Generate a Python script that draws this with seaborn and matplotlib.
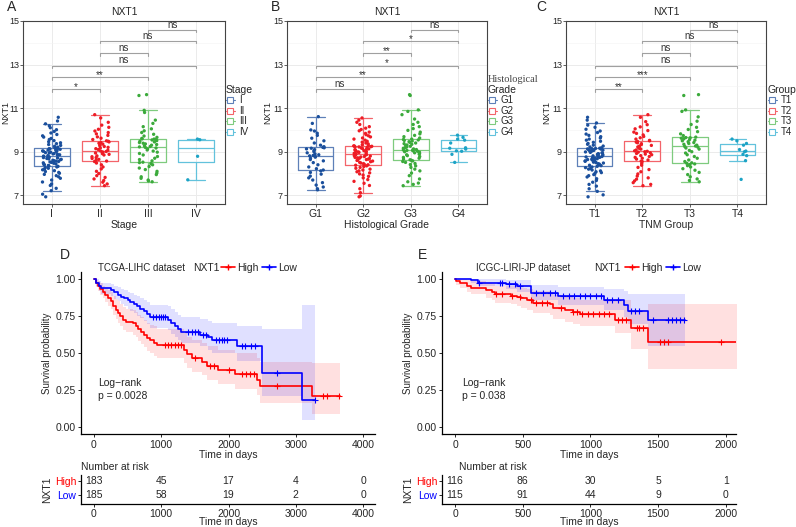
import numpy as np
import pandas as pd
import matplotlib
matplotlib.use('Agg')
import matplotlib.pyplot as plt
from matplotlib.lines import Line2D
import seaborn as sns

sns.set_style('white')
plt.rcParams['font.family'] = ['Liberation Sans', 'DejaVu Sans']
np.random.seed(11)

# ---------------------------------------------------------
# Expression data (NXT1)
# ---------------------------------------------------------
stage_groups = ['I', 'II', 'III', 'IV']
stage_I = [6.93, 7.05, 7.21, 7.32, 7.45, 7.52, 7.61, 7.70, 7.78, 7.85, 7.90, 7.96, 8.01, 8.05, 8.09, 8.13,
           8.17, 8.20, 8.24, 8.27, 8.30, 8.33,
           8.35, 8.37, 8.40, 8.42, 8.44, 8.47, 8.49, 8.51, 8.53, 8.55, 8.57, 8.59, 8.61, 8.63, 8.65, 8.67,
           8.69, 8.71, 8.73, 8.75, 8.77, 8.78,
           8.80, 8.82, 8.84, 8.86, 8.88, 8.90, 8.92, 8.94, 8.96, 8.98, 9.00, 9.02, 9.04, 9.05, 9.07, 9.08,
           9.10, 9.11, 9.13, 9.14, 9.15, 9.16,
           9.18, 9.21, 9.25, 9.29, 9.33, 9.37, 9.41, 9.46, 9.51, 9.56, 9.61, 9.67, 9.73, 9.79, 9.86, 9.93,
           10.01, 10.10, 10.19, 10.28, 10.41, 10.58]
stage_II = [7.44, 7.52, 7.60, 7.68, 7.75, 7.82, 7.90, 8.00, 8.10, 8.21, 8.30, 8.40, 8.48, 8.55,
            8.57, 8.61, 8.65, 8.69, 8.73, 8.77, 8.81, 8.85, 8.88, 8.91, 8.94, 8.97, 8.99, 9.01,
            9.03, 9.07, 9.10, 9.14, 9.17, 9.20, 9.24, 9.27, 9.31, 9.35, 9.39, 9.42, 9.45, 9.48,
            9.50, 9.56, 9.62, 9.68, 9.75, 9.82, 9.88, 9.95, 10.03, 10.12, 10.22, 10.35, 10.55, 10.70]
stage_III = [7.62, 7.66, 7.70, 7.78, 7.85, 7.95, 8.02, 8.10, 8.18, 8.25, 8.32, 8.40, 8.45, 8.50,
             8.52, 8.58, 8.64, 8.70, 8.78, 8.85, 8.92, 8.98, 9.03, 9.08, 9.13, 9.17, 9.20, 9.22,
             9.24, 9.27, 9.30, 9.33, 9.36, 9.39, 9.42, 9.45, 9.48, 9.51, 9.54, 9.56, 9.58, 9.59,
             9.61, 9.66, 9.72, 9.80, 9.88, 9.96, 10.05, 10.15, 10.30, 10.45, 10.80, 10.90, 11.58, 11.62]
stage_IV = [7.71, 8.79, 9.55, 9.58]

grade_groups = ['G1', 'G2', 'G3', 'G4']
grade_G1 = [7.25, 7.30, 7.38, 7.47, 7.58, 7.70, 7.80, 7.88, 7.97, 8.05, 8.12,
            8.16, 8.22, 8.30, 8.40, 8.50, 8.58, 8.64, 8.70, 8.75, 8.78, 8.81,
            8.83, 8.86, 8.90, 8.95, 9.00, 9.05, 9.10, 9.13, 9.16, 9.18, 9.20,
            9.23, 9.30, 9.40, 9.50, 9.62, 9.75, 9.85, 9.95, 10.00, 10.30, 10.61]
grade_G2 = [6.93, 6.97, 7.12, 7.30, 7.45, 7.55, 7.64, 7.72, 7.80, 7.87, 7.93, 7.98, 8.03, 8.08, 8.12, 8.16,
            8.20, 8.24, 8.28, 8.32, 8.35, 8.38,
            8.40, 8.42, 8.45, 8.48, 8.51, 8.54, 8.57, 8.60, 8.62, 8.64, 8.66, 8.68, 8.70, 8.72, 8.74, 8.76,
            8.78, 8.80, 8.82, 8.84, 8.86, 8.87,
            8.89, 8.91, 8.93, 8.95, 8.97, 8.99, 9.01, 9.03, 9.05, 9.07, 9.09, 9.11, 9.13, 9.15, 9.17, 9.19,
            9.21, 9.22, 9.23, 9.25, 9.26, 9.27,
            9.29, 9.32, 9.36, 9.40, 9.44, 9.48, 9.53, 9.58, 9.63, 9.68, 9.73, 9.78, 9.84, 9.90, 9.96, 10.02,
            10.08, 10.15, 10.25, 10.35, 10.45, 10.55]
grade_G3 = [7.44, 7.50, 7.56, 7.62, 7.75, 7.90, 8.02, 8.12, 8.20, 8.28, 8.35, 8.41, 8.46, 8.51, 8.55, 8.58, 8.61,
            8.63, 8.66, 8.70, 8.74, 8.78, 8.82, 8.86, 8.89, 8.92, 8.95, 8.98, 9.00, 9.02, 9.04, 9.06, 9.07, 9.08,
            9.10, 9.13, 9.16, 9.19, 9.22, 9.25, 9.28, 9.31, 9.34, 9.37, 9.40, 9.43, 9.46, 9.49, 9.52, 9.54, 9.56,
            9.58, 9.63, 9.69, 9.75, 9.82, 9.90, 9.98, 10.06, 10.15, 10.25, 10.35, 10.50, 10.70, 10.85, 10.92,
            11.58, 11.62]
grade_G4 = [8.51, 8.88, 9.02, 9.04, 9.12, 9.16, 9.18, 9.40, 9.53, 9.58, 9.66, 9.76]

tnm_groups = ['T1', 'T2', 'T3', 'T4']
tnm_T1 = [6.93, 7.02, 7.18, 7.30, 7.42, 7.50, 7.60, 7.68, 7.76, 7.84, 7.90, 7.95, 8.00, 8.04, 8.08, 8.12,
          8.16, 8.20, 8.23, 8.27, 8.30, 8.33,
          8.36, 8.38, 8.41, 8.43, 8.45, 8.48, 8.50, 8.52, 8.54, 8.56, 8.58, 8.60, 8.62, 8.64, 8.66, 8.68,
          8.70, 8.72, 8.74, 8.76, 8.78, 8.79,
          8.81, 8.83, 8.85, 8.87, 8.89, 8.91, 8.93, 8.95, 8.97, 8.99, 9.01, 9.03, 9.04, 9.06, 9.07, 9.09,
          9.10, 9.12, 9.13, 9.14, 9.15, 9.16,
          9.18, 9.22, 9.26, 9.30, 9.34, 9.38, 9.43, 9.48, 9.53, 9.58, 9.63, 9.69, 9.75, 9.81, 9.88, 9.95,
          10.03, 10.12, 10.22, 10.32, 10.45, 10.58]
tnm_T2 = [7.44, 7.50, 7.58, 7.66, 7.74, 7.80, 7.88, 7.98, 8.08, 8.18, 8.28, 8.38, 8.46, 8.55,
          8.57, 8.62, 8.66, 8.70, 8.74, 8.78, 8.82, 8.86, 8.89, 8.92, 8.95, 8.98, 9.00, 9.02,
          9.04, 9.08, 9.12, 9.15, 9.19, 9.22, 9.26, 9.29, 9.33, 9.37, 9.41, 9.44, 9.47, 9.50,
          9.52, 9.58, 9.64, 9.70, 9.77, 9.84, 9.90, 9.97, 10.05, 10.14, 10.24, 10.38, 10.58, 10.70]
tnm_T3 = [7.62, 7.68, 7.75, 7.85, 7.95, 8.05, 8.15, 8.22, 8.30, 8.36, 8.41, 8.44, 8.47,
          8.49, 8.55, 8.62, 8.70, 8.78, 8.86, 8.94, 9.00, 9.06, 9.12, 9.17, 9.21, 9.24,
          9.26, 9.30, 9.34, 9.38, 9.42, 9.46, 9.50, 9.53, 9.56, 9.59, 9.62, 9.64, 9.65,
          9.67, 9.74, 9.82, 9.92, 10.02, 10.12, 10.25, 10.40, 10.60, 10.85, 10.92, 11.58, 11.62]
tnm_T4 = [7.73, 8.59, 8.82, 8.88, 9.00, 9.03, 9.10, 9.30, 9.38, 9.50, 9.58]

# significance brackets (pairs of group index, label, height)
bracket_pairs = [(0, 1), (0, 2), (0, 3), (1, 2), (1, 3), (2, 3)]
bracket_y = [11.86, 12.41, 12.95, 13.51, 14.07, 14.59]
stage_sig = ['*', '**', 'ns', 'ns', 'ns', 'ns']
grade_sig = ['ns', '**', '*', '**', '*', 'ns']
tnm_sig = ['**', '***', 'ns', 'ns', 'ns', 'ns']

point_colors = ['#1A4F9C', '#EE1C25', '#3BAA3B', '#1CA3C5']
box_colors = ['#5E80B8', '#F3646A', '#7ECB7E', '#62C2DC']

# ---------------------------------------------------------
# Survival data (step times, survival, 95% CI), read off D and E
# ---------------------------------------------------------
tcga_high_t = [0, 30, 60, 90, 130, 170, 210, 250, 290, 320, 350, 390, 430, 480, 580, 620, 660, 700, 740,
               790, 840, 890, 930, 1340, 1380, 1450, 1600, 1680, 1840, 2100, 2430, 2470, 3236, 3657]
tcga_high_s = [1.0, 0.97, 0.95, 0.93, 0.91, 0.89, 0.87, 0.85, 0.82, 0.79, 0.77, 0.75, 0.725, 0.712, 0.70,
               0.68, 0.66, 0.64, 0.62, 0.60, 0.585, 0.57, 0.553, 0.52, 0.49, 0.467, 0.44, 0.41, 0.383,
               0.358, 0.32, 0.275, 0.207, 0.207]
tcga_high_lo = [1.0, 0.945, 0.92, 0.895, 0.87, 0.845, 0.82, 0.795, 0.76, 0.73, 0.705, 0.685, 0.655, 0.64,
                0.625, 0.605, 0.58, 0.56, 0.54, 0.515, 0.50, 0.48, 0.465, 0.43, 0.40, 0.375, 0.35, 0.315,
                0.29, 0.26, 0.215, 0.165, 0.09, 0.09]
tcga_high_up = [1.0, 0.995, 0.985, 0.97, 0.955, 0.94, 0.925, 0.91, 0.885, 0.865, 0.85, 0.83, 0.81, 0.80,
                0.79, 0.775, 0.755, 0.74, 0.72, 0.705, 0.69, 0.68, 0.665, 0.635, 0.61, 0.59, 0.57, 0.545,
                0.52, 0.50, 0.465, 0.44, 0.43, 0.43]
tcga_high_cens = [1050, 1100, 1150, 1200, 1250, 1300, 1500, 1720, 1780, 2000, 2200, 2260, 2320, 2380,
                  2720, 3410, 3460, 3650]

tcga_low_t = [0, 30, 70, 110, 250, 300, 350, 400, 450, 500, 540, 590, 640, 690, 740, 790, 830, 1100, 1150,
              1200, 1250, 1300, 1580, 1700, 1760, 2120, 2500, 3100, 3282]
tcga_low_s = [1.0, 0.975, 0.95, 0.937, 0.925, 0.91, 0.895, 0.88, 0.87, 0.858, 0.845, 0.83, 0.815, 0.80,
              0.785, 0.765, 0.74, 0.725, 0.705, 0.685, 0.66, 0.643, 0.625, 0.605, 0.59, 0.55, 0.367,
              0.185, 0.185]
tcga_low_lo = [1.0, 0.95, 0.92, 0.90, 0.885, 0.865, 0.85, 0.83, 0.815, 0.80, 0.785, 0.77, 0.75, 0.735,
               0.715, 0.695, 0.67, 0.655, 0.63, 0.61, 0.585, 0.565, 0.545, 0.52, 0.50, 0.445, 0.21, 0.045,
               0.045]
tcga_low_up = [1.0, 1.0, 0.985, 0.975, 0.965, 0.955, 0.945, 0.935, 0.925, 0.915, 0.905, 0.895, 0.885,
               0.87, 0.86, 0.845, 0.825, 0.815, 0.80, 0.78, 0.76, 0.745, 0.73, 0.715, 0.70, 0.685, 0.665,
               0.825, 0.825]
tcga_low_cens = [880, 920, 960, 1000, 1030, 1060, 1400, 1450, 1500, 1540, 1620, 1660, 1820, 1860, 1900,
                 1940, 1980, 2200, 2250, 2330, 2400, 2720, 3282]

icgc_high_t = [0, 10, 35, 85, 120, 230, 270, 295, 415, 455, 490, 530, 575, 700, 725, 810, 870, 920, 1180,
               1300, 1422, 2103]
icgc_high_s = [1.0, 0.985, 0.97, 0.955, 0.94, 0.925, 0.91, 0.896, 0.887, 0.878, 0.869, 0.855, 0.84,
               0.828, 0.806, 0.79, 0.779, 0.764, 0.725, 0.669, 0.572, 0.572]
icgc_high_lo = [1.0, 0.96, 0.94, 0.915, 0.90, 0.875, 0.86, 0.84, 0.83, 0.815, 0.805, 0.79, 0.77, 0.755,
                0.73, 0.71, 0.695, 0.68, 0.635, 0.53, 0.39, 0.39]
icgc_high_up = [1.0, 1.0, 1.0, 0.995, 0.985, 0.975, 0.965, 0.955, 0.95, 0.945, 0.94, 0.93, 0.92, 0.91,
                0.89, 0.88, 0.87, 0.86, 0.86, 0.78, 0.83, 0.83]
icgc_high_cens = [300, 350, 420, 480, 560, 600, 640, 680, 780, 870, 900, 940, 980, 1020, 1060, 1100, 1140,
                  1200, 1230, 1260, 1340, 1360, 1390, 1510, 1540, 1570, 1960]

icgc_low_t = [0, 115, 170, 380, 460, 560, 760, 1100, 1250, 1280, 1425, 1697]
icgc_low_s = [1.0, 0.99, 0.975, 0.963, 0.95, 0.907, 0.883, 0.856, 0.826, 0.786, 0.72, 0.72]
icgc_low_lo = [1.0, 0.97, 0.95, 0.93, 0.91, 0.855, 0.825, 0.79, 0.745, 0.695, 0.55, 0.55]
icgc_low_up = [1.0, 1.0, 1.0, 0.995, 0.99, 0.96, 0.945, 0.935, 0.92, 0.90, 0.90, 0.90]
icgc_low_cens = [180, 330, 350, 400, 440, 480, 600, 650, 700, 740, 800, 840, 880, 920, 960, 1000, 1040,
                 1080, 1120, 1160, 1200, 1300, 1330, 1360, 1460, 1570, 1600, 1630, 1660, 1690]

tcga_risk_t = [0, 1000, 2000, 3000, 4000]
tcga_risk_high = [183, 45, 17, 4, 0]
tcga_risk_low = [185, 58, 19, 2, 0]
icgc_risk_t = [0, 500, 1000, 1500, 2000]
icgc_risk_high = [116, 86, 30, 5, 1]
icgc_risk_low = [115, 91, 44, 9, 0]

W, H = 796, 527
fig = plt.figure(figsize=(W / 100, H / 100), dpi=100)


def px_axes(left, top, right, bottom):
    return fig.add_axes([left / W, 1 - bottom / H, (right - left) / W, (bottom - top) / H])


def box_panel(ax, groups, values, sig, xlabel, ylab_x):
    df = pd.DataFrame({'group': np.repeat(groups, [len(v) for v in values]),
                       'NXT1': np.concatenate(values)})
    sns.boxplot(data=df, x='group', y='NXT1', hue='group', order=groups, hue_order=groups,
                palette=box_colors, fill=False, width=0.75, showfliers=False, linewidth=0.9,
                legend=False, ax=ax)
    sns.stripplot(data=df, x='group', y='NXT1', hue='group', order=groups, hue_order=groups,
                  palette=point_colors, jitter=0.2, size=2.4, linewidth=0, legend=False, ax=ax, zorder=3)
    for (i, j), lab, yb in zip(bracket_pairs, sig, bracket_y):
        ax.plot([i, i, j, j], [yb - 0.1, yb, yb, yb - 0.1], color='#A0A0A0', lw=0.8)
        if lab == 'ns':
            ax.text((i + j) / 2, yb + 0.01, lab, ha='center', va='bottom', fontsize=7, color='#333333')
        else:
            ax.text((i + j) / 2, yb - 0.12, lab, ha='center', va='bottom', fontsize=7, color='#333333')
    ax.set_xlim(-0.6, 3.6)
    ax.set_ylim(6.6, 15)
    ax.set_yticks([7, 9, 11, 13, 15])
    ax.set_yticks([8, 10, 12, 14], minor=True)
    ax.grid(True, which='major', color='#EBEBEB', lw=0.7)
    ax.grid(True, which='minor', axis='y', color='#F3F3F3', lw=0.4)
    ax.set_axisbelow(True)
    for sp in ax.spines.values():
        sp.set_visible(True)
        sp.set_color('#444444')
        sp.set_linewidth(0.8)
    ax.tick_params(which='major', length=2, width=0.6, color='#444444', labelsize=6.5, pad=1,
                   left=True, bottom=True)
    ax.tick_params(axis='x', labelsize=7.5, pad=1.5)
    ax.tick_params(which='minor', length=0)
    ax.set_title('NXT1', fontsize=7.5, pad=4)
    ax.set_xlabel(xlabel, fontsize=7.5, labelpad=1)
    ax.set_ylabel('NXT1', fontsize=6.5)
    ax.yaxis.set_label_coords(ylab_x, 0.5)


def box_legend(groups, title, x, y):
    handles = [Line2D([], [], color=c, lw=0.8, marker='s', markersize=4.5, markerfacecolor='white',
                      markeredgewidth=0.8) for c in box_colors]
    fig.legend(handles, groups, title=title, loc='upper left', bbox_to_anchor=(x / W, 1 - y / H),
               frameon=False, fontsize=7, title_fontsize=7.5, handlelength=0.9, handletextpad=0.4,
               labelspacing=0.05, borderpad=0, borderaxespad=0, alignment='left')


def step_at(t, s, x):
    return s[np.searchsorted(t, x, side='right') - 1]


def km_panel(ax, curves, xlim, xticks, ptxt, txt_x):
    for t, s, lo, up, cens, col in curves:
        ax.fill_between(t, lo, up, step='post', color=col, alpha=0.12, lw=0)
        sns.lineplot(x=t, y=s, drawstyle='steps-post', color=col, lw=1.2, estimator=None, sort=False, ax=ax)
        ax.scatter(cens, [step_at(t, s, c) for c in cens], marker='+', s=14, color=col, lw=0.8, zorder=4)
    ax.text(txt_x, 0.30, 'Log\u2212rank', fontsize=7.5, va='center')
    ax.text(txt_x, 0.21, ptxt, fontsize=7.5, va='center')
    ax.set_xlim(*xlim)
    ax.set_ylim(-0.05, 1.05)
    ax.set_xticks(xticks)
    ax.set_yticks([0, 0.25, 0.5, 0.75, 1.0])
    ax.set_yticklabels(['0.00', '0.25', '0.50', '0.75', '1.00'])
    sns.despine(ax=ax)
    for sp in ['left', 'bottom']:
        ax.spines[sp].set_color('black')
        ax.spines[sp].set_linewidth(0.9)
    ax.tick_params(length=2.5, width=0.7, labelsize=7.5, pad=1.5, left=True, bottom=True)
    ax.set_xlabel('Time in days', fontsize=7.5, labelpad=0)
    ax.set_ylabel('Survival probability', fontsize=7, labelpad=2)


def risk_table(ax, xlim, times, high, low):
    for row, counts in [(1, high), (0, low)]:
        for t, n in zip(times, counts):
            ax.text(t, row, str(n), ha='center', va='center', fontsize=7.5)
    ax.set_xlim(*xlim)
    ax.set_ylim(-0.64, 1.43)
    ax.set_xticks(times)
    ax.set_yticks([1, 0])
    ax.set_yticklabels(['High', 'Low'])
    for lab, c in zip(ax.get_yticklabels(), ['red', 'blue']):
        lab.set_color(c)
    sns.despine(ax=ax)
    for sp in ['left', 'bottom']:
        ax.spines[sp].set_color('black')
        ax.spines[sp].set_linewidth(0.9)
    ax.tick_params(length=2.5, width=0.7, labelsize=7.5, pad=1, left=True, bottom=True)
    ax.set_xlabel('Time in days', fontsize=7.5, labelpad=-1)
    ax.set_ylabel('NXT1', fontsize=7.5, labelpad=2)


# ---------------------------------------------------------
# A-C: expression by clinical group
# ---------------------------------------------------------
axA = px_axes(23, 21, 225, 204)
box_panel(axA, stage_groups, [stage_I, stage_II, stage_III, stage_IV], stage_sig, 'Stage', -0.062)
axB = px_axes(287, 21, 487, 204)
box_panel(axB, grade_groups, [grade_G1, grade_G2, grade_G3, grade_G4], grade_sig, 'Histological Grade', -0.075)
axC = px_axes(566, 21, 766, 204)
box_panel(axC, tnm_groups, [tnm_T1, tnm_T2, tnm_T3, tnm_T4], tnm_sig, 'TNM Group', -0.075)

box_legend(stage_groups, 'Stage', 226, 85)
box_legend(grade_groups, 'Grade', 488, 85)
box_legend(tnm_groups, 'Group', 768, 85)
fig.text(488 / W, 1 - 80 / H, 'Histological', family='Liberation Serif', fontsize=7.5, va='center',
         color='#444444')

for lab, x, y in [('A', 7, 7), ('B', 271, 7), ('C', 536, 7), ('D', 60, 255), ('E', 418, 255)]:
    fig.text(x / W, 1 - y / H, lab, fontsize=10, va='center')

# ---------------------------------------------------------
# D-E: Kaplan-Meier curves + number at risk
# ---------------------------------------------------------
tcga_xlim = (-193, 4178)
icgc_xlim = (-96, 2074)

axD = px_axes(81, 271.6, 375, 434.4)
km_panel(axD, [(tcga_high_t, tcga_high_s, tcga_high_lo, tcga_high_up, tcga_high_cens, 'red'),
               (tcga_low_t, tcga_low_s, tcga_low_lo, tcga_low_up, tcga_low_cens, 'blue')],
         tcga_xlim, tcga_risk_t, 'p = 0.0028', 60)
axDt = px_axes(81, 475, 375, 504)
risk_table(axDt, tcga_xlim, tcga_risk_t, tcga_risk_high, tcga_risk_low)

axE = px_axes(442, 271.6, 736, 434.4)
km_panel(axE, [(icgc_high_t, icgc_high_s, icgc_high_lo, icgc_high_up, icgc_high_cens, 'red'),
               (icgc_low_t, icgc_low_s, icgc_low_lo, icgc_low_up, icgc_low_cens, 'blue')],
         icgc_xlim, icgc_risk_t, 'p = 0.038', 49)
axEt = px_axes(442, 475, 736, 504)
risk_table(axEt, icgc_xlim, icgc_risk_t, icgc_risk_high, icgc_risk_low)

km_handles = [Line2D([], [], color=c, lw=1.2, marker='+', markersize=4) for c in ['red', 'blue']]
for name, xn, xg, xl in [('TCGA-LIHC dataset', 98, 193, 221), ('ICGC-LIRI-JP dataset', 476, 594, 625)]:
    fig.text(xn / W, 1 - 268 / H, name, fontsize=7, va='center')
    fig.text(xg / W, 1 - 268 / H, 'NXT1', fontsize=7.5, va='center')
    fig.legend(km_handles, ['High', 'Low'], ncol=2, loc='center left', bbox_to_anchor=(xl / W, 1 - 268 / H),
               frameon=False, fontsize=7.5, handlelength=1.3, handletextpad=0.2, columnspacing=0.4,
               borderpad=0, borderaxespad=0)
    fig.text((xn - 17) / W, 1 - 467 / H, 'Number at risk', fontsize=7.5, va='center')

fig.savefig('out.png', dpi=100)
plt.close(fig)
